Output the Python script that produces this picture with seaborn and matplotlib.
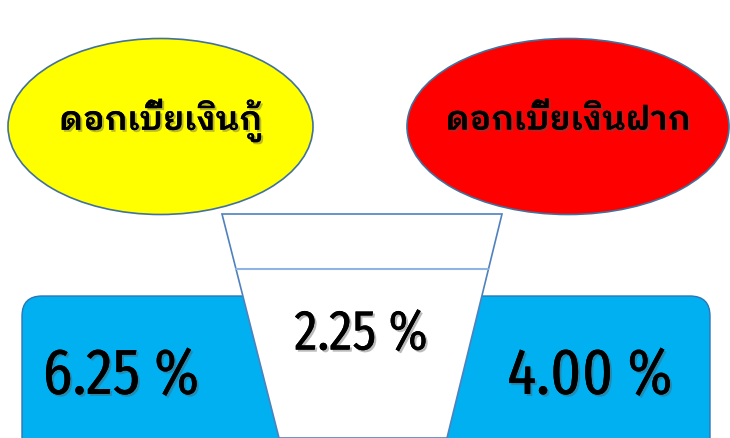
import matplotlib
matplotlib.use("Agg")
import matplotlib.pyplot as plt
import matplotlib.patheffects as pe
from matplotlib.patches import Ellipse, FancyBboxPatch, Polygon
import seaborn as sns

# Interest rates (percent per year)
labels = ["ดอกเบี้ยเงินกู้", "ดอกเบี้ยเงินฝาก"]
loan_rate = 6.25
deposit_rate = 4.00
spread = loan_rate - deposit_rate
bubble_colors = ["#FFFF00", "#FF0000"]

sns.set_theme(style="white")
thai_font = ["IBM Plex Sans Thai Looped", "IBM Plex Sans Thai", "DejaVu Sans"]
num_font = ["Fira Sans Extra Condensed", "Roboto Condensed", "DejaVu Sans"]

W, H = 730, 439
fig = plt.figure(figsize=(W / 100, H / 100), dpi=100)
ax = fig.add_axes([0, 0, 1, 1])
ax.set_xlim(0, W)
ax.set_ylim(H, 0)
ax.set_axis_off()

edge = "#41719C"
shadow = [pe.withSimplePatchShadow(offset=(1.5, -1.5), shadow_rgbFace="#555555", alpha=0.4),
          pe.Normal()]

# Two bubbles with the rate names
bubbles = [((160.5, 127.5), 305, 176), ((568, 127.5), 322, 176)]
for (center, w, h), color, text in zip(bubbles, bubble_colors, labels):
    ax.add_patch(Ellipse(center, w, h, facecolor=color, edgecolor=edge, lw=1.2, zorder=2))
    ax.text(center[0], center[1] - 6, text, ha="center", va="center", fontsize=24,
            fontweight="semibold", family=thai_font, color="black",
            path_effects=shadow, zorder=5)

# Blue band holding both rates
ax.add_patch(FancyBboxPatch((22, 297), 688, 170, boxstyle="round,pad=0,rounding_size=20",
                            facecolor="#00B0F0", edgecolor="#2E75B6", lw=1, zorder=2))

# Cup showing the spread between the two rates
cup = Polygon([(222, 215), (502, 215), (447, 439), (279, 439)], closed=True,
              facecolor="white", edgecolor="#4F81BD", lw=1.2, zorder=3)
ax.add_patch(cup)
ax.plot([236, 488], [270, 270], color="#8EB4E3", lw=1.5, zorder=4)

ax.text(121, 378, f"{loan_rate:.2f} %", ha="center", va="center", fontsize=47,
        fontweight="normal", family=num_font, color="black", path_effects=shadow, zorder=5)
ax.text(590, 378, f"{deposit_rate:.2f} %", ha="center", va="center", fontsize=47,
        fontweight="normal", family=num_font, color="black", path_effects=shadow, zorder=5)
ax.text(361, 335, f"{spread:.2f} %", ha="center", va="center", fontsize=41,
        fontweight="normal", family=num_font, color="black", path_effects=shadow, zorder=5)

fig.savefig("out.png", dpi=100)
